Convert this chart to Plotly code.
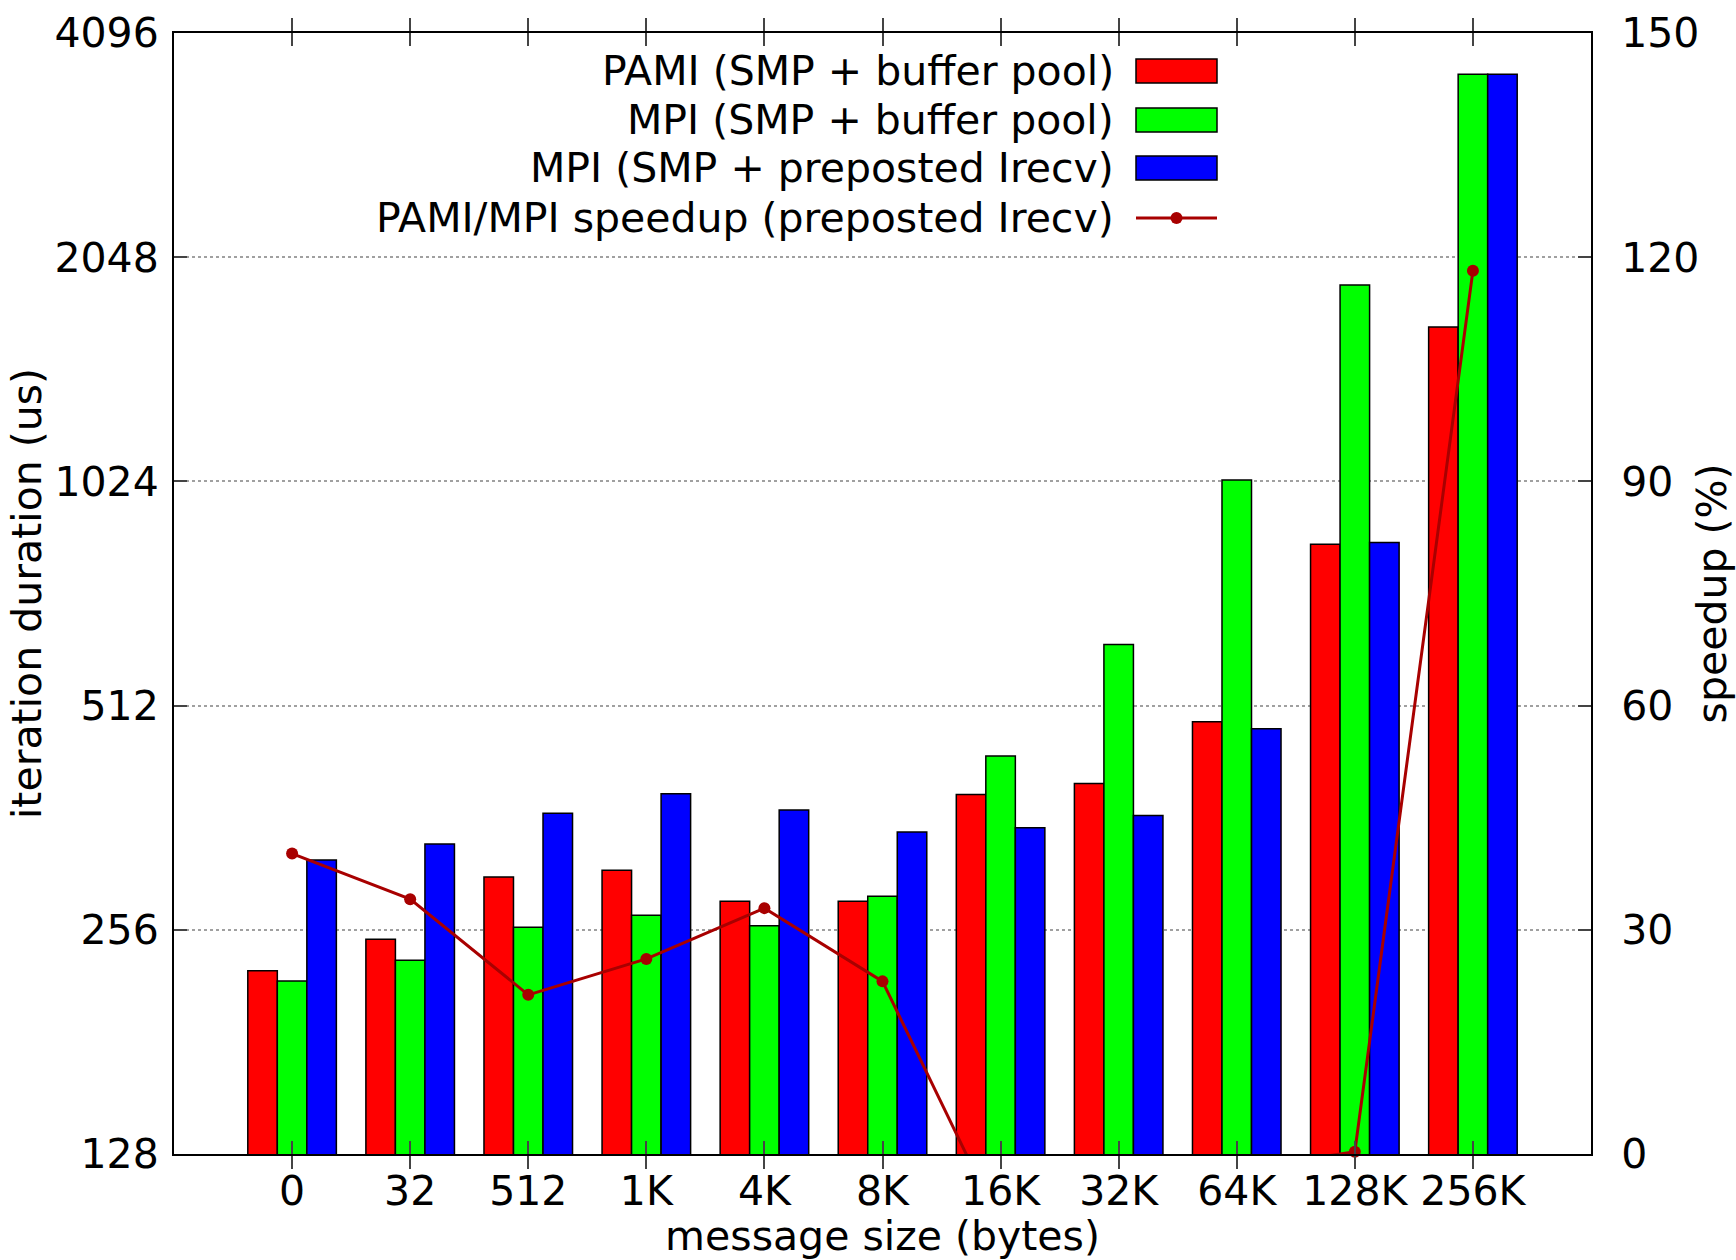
import plotly.graph_objects as go

categories = ["0", "32", "512", "1K", "4K", "8K", "16K", "32K", "64K", "128K", "256K"]
pami_pool = [225.6, 248.6, 301.4, 307.8, 279.6, 279.6, 389.0, 402.4, 487.0, 842.9, 1651.0]
mpi_pool = [218.5, 233.0, 258.0, 267.8, 259.2, 284.0, 438.0, 618.5, 1028.6, 1880.0, 3606.0]
mpi_prepost = [317.7, 333.7, 367.0, 389.9, 370.8, 346.4, 351.0, 364.6, 476.8, 847.8, 3606.0]
speedup = [40.2, 34.1, 21.3, 26.1, 32.9, 23.1, -9.5, -9.4, -2.1, 0.3, 118.2]

y_ticks = [128, 256, 512, 1024, 2048, 4096]
y2_ticks = [0, 30, 60, 90, 120, 150]

legend_names = [
    "PAMI (SMP + buffer pool)",
    "MPI (SMP + buffer pool)",
    "MPI (SMP + preposted Irecv)",
    "PAMI/MPI speedup (preposted Irecv)",
]
bar_colors = ["#ff0000", "#00ff00", "#0000ff"]
line_color = "#a80000"
FONT = "DejaVu Sans"
FS = 41

x = list(range(len(categories)))
fig = go.Figure()
for vals, col, name in zip([pami_pool, mpi_pool, mpi_prepost], bar_colors, legend_names[:3]):
    fig.add_trace(go.Bar(x=x, y=vals, name=name, marker=dict(color=col, line=dict(color="black", width=1.5)),
                         showlegend=False))

fig.add_trace(go.Scatter(x=x, y=speedup, yaxis="y2", mode="lines", name=legend_names[3],
                         line=dict(color=line_color, width=3), showlegend=False))
vis = [v if v >= 0 else None for v in speedup]
fig.add_trace(go.Scatter(x=x, y=vis, yaxis="y2", mode="markers", cliponaxis=False,
                         marker=dict(color=line_color, size=12), showlegend=False))

L, R, T, B = 174, 1591, 33, 1154
W, H = 1736, 1260
def px(xp):
    return (xp - L) / (R - L)
def py(yp):
    return (B - yp) / (B - T)

shapes = []
annotations = []
rows = [71, 120, 168, 218]
for i, name in enumerate(legend_names):
    annotations.append(dict(xref="paper", yref="paper", x=px(1116), y=py(rows[i]), text=name,
                            showarrow=False, xanchor="right", yanchor="middle",
                            font=dict(family=FONT, size=FS, color="black")))
    if i < 3:
        shapes.append(dict(type="rect", xref="paper", yref="paper", x0=px(1136), x1=px(1217),
                           y0=py(rows[i] + 12), y1=py(rows[i] - 12), fillcolor=bar_colors[i],
                           line=dict(color="black", width=1.5)))
    else:
        shapes.append(dict(type="line", xref="paper", yref="paper", x0=px(1136), x1=px(1217),
                           y0=py(rows[i]), y1=py(rows[i]), line=dict(color=line_color, width=3)))
        shapes.append(dict(type="circle", xref="paper", yref="paper", xsizemode="pixel", ysizemode="pixel",
                           xanchor=px(1176.5), yanchor=py(rows[i]), x0=-6, x1=6, y0=-6, y1=6,
                           fillcolor=line_color, line=dict(color=line_color, width=0)))

title_font = dict(family=FONT, size=FS, color="black")
fig.update_layout(
    width=W, height=H, autosize=False,
    margin=dict(l=L, r=W - R, t=T, b=H - B, pad=0),
    paper_bgcolor="white", plot_bgcolor="white",
    barmode="group", bargap=0.25, bargroupgap=0,
    font=dict(family=FONT, size=FS, color="black"),
    shapes=shapes, annotations=annotations,
    xaxis=dict(range=[-1, len(categories)], tickvals=x, ticktext=categories, ticks="inside", ticklen=13,
               tickwidth=1.5, showline=True, linewidth=2, linecolor="black", mirror="allticks",
               showgrid=False, zeroline=False, automargin=False,
               title=dict(text="message size (bytes)", standoff=4, font=title_font),
               tickfont=dict(size=FS)),
    yaxis=dict(type="log", range=[2.10721, 3.61236], tickvals=y_ticks, ticktext=[str(v) for v in y_ticks],
               ticks="inside", ticklen=13, tickwidth=1.5, showline=True, linewidth=2, linecolor="black",
               mirror=True, showgrid=True, gridcolor="#a0a0a0", griddash="dot", gridwidth=1.5,
               zeroline=False, ticklabelstandoff=5, automargin=False,
               title=dict(text="iteration duration (us)", standoff=0, font=title_font)),
    yaxis2=dict(overlaying="y", side="right", range=[0, 150], tickvals=y2_ticks, ticks="inside",
                ticklen=13, tickwidth=1.5, showline=True, linewidth=2, linecolor="black", showgrid=False,
                zeroline=False, ticklabelstandoff=20, automargin=False,
                title=dict(text="speedup (%)", standoff=4, font=title_font)),
)

fig.write_html("out.html", config={"displayModeBar": False},
               post_script="document.body.style.margin='0';")
